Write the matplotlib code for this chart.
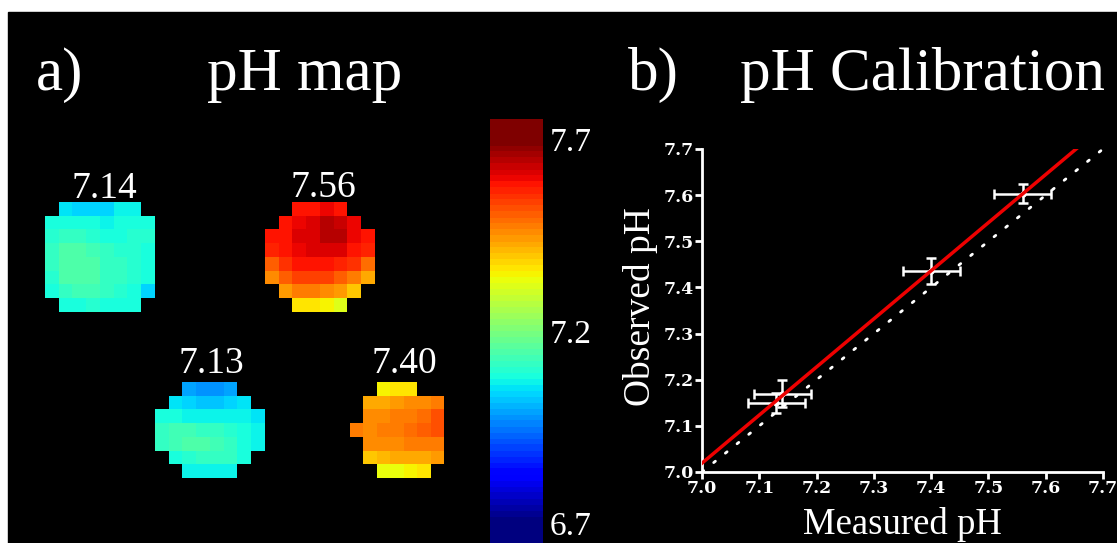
import numpy as np
import matplotlib
matplotlib.use("Agg")
import matplotlib.pyplot as plt
from matplotlib.patches import Rectangle

# ---------------- data ----------------
nan = np.nan
blob_labels = ["7.14", "7.56", "7.13", "7.40"]

blob_714 = [
    [nan, 7.05, 7.04, 7.03, 7.04, 7.06, 7.07, nan],
    [7.09, 7.09, 7.08, 7.08, 7.07, 7.08, 7.09, 7.09],
    [7.10, 7.12, 7.11, 7.10, 7.09, 7.09, 7.10, 7.10],
    [7.11, 7.14, 7.15, 7.13, 7.11, 7.10, 7.10, 7.09],
    [7.11, 7.15, 7.15, 7.14, 7.12, 7.11, 7.10, 7.09],
    [7.10, 7.14, 7.15, 7.14, 7.12, 7.11, 7.10, 7.08],
    [7.09, 7.11, 7.13, 7.13, 7.11, 7.10, 7.08, 7.04],
    [nan, 7.08, 7.09, 7.10, 7.09, 7.08, 7.08, nan],
]
blob_756 = [
    [nan, nan, 7.58, 7.59, 7.60, 7.58, nan, nan],
    [nan, 7.59, 7.60, 7.62, 7.64, 7.63, 7.60, nan],
    [7.58, 7.59, 7.61, 7.62, 7.64, 7.64, 7.60, 7.58],
    [7.57, 7.58, 7.60, 7.61, 7.62, 7.61, 7.58, 7.56],
    [7.51, 7.55, 7.58, 7.58, 7.58, 7.57, 7.55, 7.49],
    [7.46, 7.51, 7.53, 7.54, 7.53, 7.51, 7.47, 7.42],
    [nan, 7.44, 7.47, 7.48, 7.46, 7.44, 7.40, nan],
    [nan, nan, 7.37, 7.36, 7.35, 7.32, nan, nan],
]
blob_713 = [
    [nan, nan, 6.99, 6.98, 6.98, 6.99, nan, nan],
    [nan, 7.05, 7.03, 7.02, 7.02, 7.04, 7.05, nan],
    [7.09, 7.08, 7.07, 7.07, 7.07, 7.07, 7.07, 7.05],
    [7.12, 7.13, 7.13, 7.12, 7.11, 7.10, 7.08, 7.07],
    [7.11, 7.13, 7.14, 7.14, 7.13, 7.12, 7.09, 7.07],
    [nan, 7.09, 7.10, 7.11, 7.12, 7.12, 7.08, nan],
    [nan, nan, 7.06, 7.07, 7.07, 7.06, nan, nan],
]
blob_740 = [
    [nan, nan, 7.35, 7.36, 7.37, nan, nan],
    [nan, 7.42, 7.43, 7.44, 7.45, 7.46, 7.48],
    [nan, 7.45, 7.46, 7.47, 7.48, 7.49, 7.52],
    [7.47, 7.46, 7.47, 7.48, 7.49, 7.50, 7.52],
    [nan, 7.45, 7.46, 7.46, 7.47, 7.48, 7.48],
    [nan, 7.40, 7.41, 7.42, 7.42, 7.43, 7.44],
    [nan, nan, 7.34, 7.34, 7.35, 7.36, nan],
]

cbar_ticks = [6.7, 7.2, 7.7]
ph_min, ph_max = 6.7, 7.7

measured = [7.14, 7.13, 7.40, 7.56]
observed = [7.17, 7.15, 7.436, 7.603]
measured_err = [0.05, 0.05, 0.05, 0.05]
observed_err = [0.03, 0.022, 0.028, 0.021]
axis_ticks = [7.0, 7.1, 7.2, 7.3, 7.4, 7.5, 7.6, 7.7]

# ---------------- layout ----------------
W, H = 1117, 543
fig = plt.figure(figsize=(W / 100, H / 100), dpi=100, facecolor="white")
bg = fig.add_axes([0, 0, 1, 1])
bg.axis("off")
bg.add_patch(Rectangle((8, 12), W - 8, H - 12, color="black", zorder=0))

cmap = matplotlib.colormaps["jet"].resampled(64)
serif = "Liberation Serif"

blobs = [blob_714, blob_756, blob_713, blob_740]
extents = [(45, 155, 202, 312), (265, 375, 202, 312),
           (155, 265, 382, 478), (350, 444, 382, 478)]
label_pos = [(104.5, 198), (323.5, 197), (211, 373), (404.5, 373)]
for arr, (x0, x1, y0, y1), lab, (lx, ly) in zip(blobs, extents, blob_labels, label_pos):
    bg.imshow(np.array(arr, dtype=float), cmap=cmap, vmin=ph_min, vmax=ph_max,
              extent=(x0, x1, y1, y0), interpolation="nearest", aspect="auto", zorder=2)
    bg.text(lx, ly, lab, color="white", fontsize=27, family=serif,
            ha="center", va="baseline", zorder=3)

bg.set_xlim(0, W)
bg.set_ylim(H, 0)

# titles
for x, s in [(36, "a)"), (207, "pH map"), (628, "b)"), (740, "pH Calibration")]:
    bg.text(x, 90, s, color="white", fontsize=44, family=serif, ha="left", va="baseline")

# colorbar
lo, hi = 6.648, 7.752
cax = fig.add_axes([490 / W, 0, 53 / W, (H - 119) / H])
grad = np.linspace(lo, hi, 512).reshape(-1, 1)
cax.imshow(grad, cmap=cmap, vmin=ph_min, vmax=ph_max, aspect="auto",
           origin="lower", extent=(0, 1, lo, hi), interpolation="nearest")
cax.set_ylim(lo, hi)
cax.set_xticks([])
cax.yaxis.tick_right()
cax.set_yticks(cbar_ticks)
cax.set_yticklabels([f"{t:.1f}" for t in cbar_ticks])
cax.tick_params(axis="y", length=0, pad=5, labelcolor="white", labelsize=24)
for t in cax.get_yticklabels():
    t.set_family(serif)
for sp in cax.spines.values():
    sp.set_visible(False)

# calibration plot
ax = fig.add_axes([702 / W, (H - 472) / H, 401 / W, 323 / H])
ax.set_facecolor("none")
ax.plot([7.0, 7.7], [7.0, 7.7], color="white", lw=2, linestyle=(0, (0.8, 4.6)),
        dash_capstyle="round", zorder=1)
ax.errorbar(measured, observed, xerr=measured_err, yerr=observed_err, fmt="o",
            color="white", ms=3.5, elinewidth=1.8, capsize=3.6, capthick=1.8, zorder=2)
slope, intercept = np.polyfit(measured, observed, 1)
xf = np.array([7.0, 7.7])
ax.plot(xf, slope * xf + intercept, color="#ee0000", lw=2.5, zorder=3)
ax.set_xlim(7.0, 7.7)
ax.set_ylim(7.0, 7.7)
ax.set_xticks(axis_ticks)
ax.set_yticks(axis_ticks)
ax.set_xticklabels([f"{t:.1f}" for t in axis_ticks])
ax.set_yticklabels([f"{t:.1f}" for t in axis_ticks])
ax.tick_params(direction="out", length=5, width=2, color="white", labelcolor="white",
               labelsize=12.5, pad=1)
for t in ax.get_xticklabels() + ax.get_yticklabels():
    t.set_family("DejaVu Serif")
    t.set_fontweight("bold")
for s in ["top", "right"]:
    ax.spines[s].set_visible(False)
for s in ["left", "bottom"]:
    ax.spines[s].set_color("white")
    ax.spines[s].set_linewidth(2)

bg.text(640, 307, "Observed pH", color="white", fontsize=27, family=serif,
        rotation=90, ha="center", va="center")
bg.text(902, 534, "Measured pH", color="white", fontsize=26.5, family=serif,
        ha="center", va="baseline")

fig.savefig("out.png", dpi=100, facecolor="white")
